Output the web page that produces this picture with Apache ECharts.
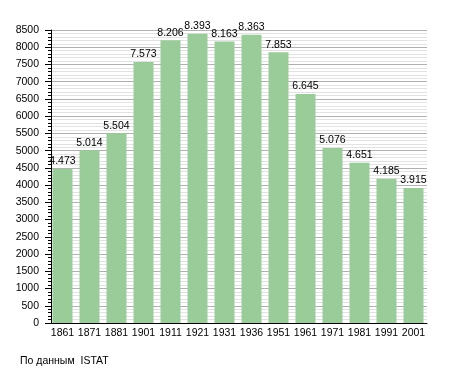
<!DOCTYPE html>
<html><head><meta charset="utf-8">
<script src="https://cdn.jsdelivr.net/npm/echarts@6/dist/echarts.min.js"></script>
<style>html,body{margin:0;padding:0;background:#fff}#c{width:455px;height:373px}</style>
</head><body><div id="c"></div>
<script>
const years = ['1861','1871','1881','1901','1911','1921','1931','1936','1951','1961','1971','1981','1991','2001'];
const population = [4473,5014,5504,7573,8206,8393,8163,8363,7853,6645,5076,4651,4185,3915];
const sourceText = 'По данным  ISTAT';

function fmt(v){ return String(v).replace(/\B(?=(\d{3})+(?!\d))/g,'.'); }

const chart = echarts.init(document.getElementById('c'), null, {renderer:'canvas'});
chart.setOption({
  animation:false,
  backgroundColor:'#fff',
  textStyle:{fontFamily:'Liberation Sans, Arial, sans-serif'},
  grid:{left:49, right:28, top:30, bottom:50, containLabel:false},
  graphic:[{type:'text', left:20, top:356, style:{text:sourceText, font:'10.5px Liberation Sans, Arial, sans-serif', fill:'#000'}}],
  xAxis:{
    type:'category', data:years,
    axisLine:{lineStyle:{color:'#000', width:1}},
    axisTick:{show:false},
    axisLabel:{color:'#000', fontSize:10.5, margin:5, interval:0}
  },
  yAxis:{
    type:'value', min:0, max:8500, interval:500, offset:-2,
    axisLine:{show:true, lineStyle:{color:'#000'}},
    axisTick:{show:true, length:6, lineStyle:{color:'#000'}},
    minorTick:{show:true, splitNumber:5, length:3, lineStyle:{color:'#000'}},
    axisLabel:{color:'#000', fontSize:10.5, margin:12, formatter:v=>String(v)},
    splitLine:{show:true, lineStyle:{color:'#b0b0b0', width:1}},
    minorSplitLine:{show:true, lineStyle:{color:'#e2e2e2', width:1}}
  },
  series:[{
    type:'bar', data:population, barWidth:20,
    itemStyle:{color:'#99cc99'},
    label:{show:true, position:'top', distance:2, color:'#000', fontSize:10.5, fontFamily:'Liberation Sans Narrow, Liberation Sans, Arial, sans-serif', formatter:p=>fmt(p.value)}
  }]
});
</script></body></html>
